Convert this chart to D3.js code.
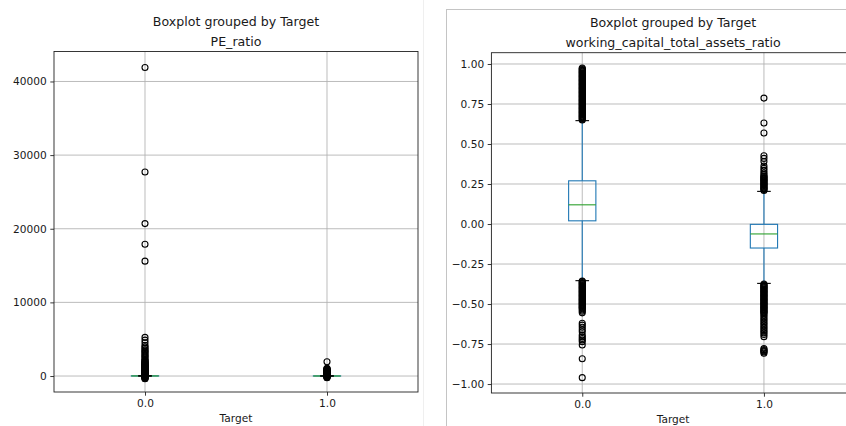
<!DOCTYPE html>
<html>
<head>
<meta charset="utf-8">
<script src="https://cdn.jsdelivr.net/npm/d3@7/dist/d3.min.js"></script>
<style>
  html, body { margin: 0; padding: 0; background: #fff; }
  svg { display: block; font-family: "DejaVu Sans", sans-serif; }
</style>
</head>
<body>
<svg id="chart" width="846" height="426"></svg>
<script>
// Groups on the x axis
const groups = ["0.0", "1.0"];

// PE_ratio box statistics per group
const peQ1 = [4, -2];
const peMedian = [11, 5];
const peQ3 = [22, 14];
const peWhiskerLow = [-20, -25];
const peWhiskerHigh = [50, 38];
const peFliers0 = [41900, 27700, 20700, 17900, 15600, 5250, 4880, 4520, 4150, 3950, 3750,
  3550, 3400, 3250, 3080, 2900, 2750, 2600, 2450, 2260, 2150, 2050, 1950, 1880, 1810,
  1740, 1670, 1600, 1540, 1480, 1420, 1360, 1300, 1250, 1200, 1150, 1100, 1050, 1000,
  960, 920, 880, 840, 800, 760, 720, 690, 660, 630, 600, 570, 540, 510, 480, 450, 420,
  395, 370, 345, 320, 300, 280, 260, 240, 220, 200, 185, 170, 155, 140, 125, 110, 100,
  90, 80, 70, 62, -60, -100, -150, -200, -260, -320, -380];
const peFliers1 = [1940, 1050, 990, 940, 890, 840, 790, 745, 700, 660, 620, 580, 545,
  510, 475, 440, 410, 380, 350, 320, 295, 270, 245, 220, 200, 180, 160, 140, 120, 105,
  90, 75, 60, 48, -50, -90, -140, -190, -240];
const peTicks = [0, 10000, 20000, 30000, 40000];

// working_capital_total_assets_ratio box statistics per group
const wcQ1 = [0.02, -0.15];
const wcMedian = [0.12, -0.062];
const wcQ3 = [0.27, -0.002];
const wcWhiskerLow = [-0.354, -0.371];
const wcWhiskerHigh = [0.646, 0.204];
const wcFliers0 = [0.975, 0.97, 0.965, 0.96, 0.955, 0.95, 0.945, 0.94, 0.935, 0.93,
  0.925, 0.92, 0.915, 0.91, 0.905, 0.90, 0.895, 0.89, 0.885, 0.88, 0.875, 0.87, 0.865,
  0.86, 0.855, 0.85, 0.845, 0.84, 0.835, 0.83, 0.825, 0.82, 0.815, 0.81, 0.805, 0.80,
  0.795, 0.79, 0.785, 0.78, 0.775, 0.77, 0.765, 0.76, 0.755, 0.75, 0.745, 0.74, 0.735,
  0.73, 0.725, 0.72, 0.715, 0.71, 0.705, 0.70, 0.695, 0.69, 0.685, 0.68, 0.675, 0.67,
  0.665, 0.66, 0.655, 0.65,
  -0.356, -0.36, -0.365, -0.37, -0.375, -0.38, -0.385, -0.39, -0.395, -0.40, -0.405,
  -0.41, -0.415, -0.42, -0.425, -0.43, -0.435, -0.44, -0.445, -0.45, -0.455, -0.46,
  -0.465, -0.47, -0.475, -0.48, -0.485, -0.49, -0.495, -0.50, -0.505, -0.51, -0.515,
  -0.52, -0.525, -0.53, -0.537, -0.545, -0.555, -0.62, -0.632, -0.645, -0.66, -0.673,
  -0.694, -0.705, -0.715, -0.725, -0.735, -0.756, -0.842, -0.96];
const wcFliers1 = [0.787, 0.631, 0.569, 0.427, 0.41, 0.39, 0.362, 0.348, 0.335, 0.32,
  0.31, 0.30, 0.295, 0.29, 0.285, 0.28, 0.275, 0.27, 0.265, 0.26, 0.255, 0.25, 0.245,
  0.24, 0.235, 0.23, 0.225, 0.22, 0.215, 0.21,
  -0.375, -0.38, -0.385, -0.39, -0.395, -0.40, -0.405, -0.41, -0.415, -0.42, -0.425,
  -0.43, -0.435, -0.44, -0.445, -0.45, -0.455, -0.46, -0.465, -0.47, -0.475, -0.48,
  -0.485, -0.49, -0.495, -0.50, -0.505, -0.51, -0.515, -0.52, -0.525, -0.53, -0.535,
  -0.54, -0.545, -0.55, -0.555, -0.56, -0.57, -0.58, -0.59, -0.60, -0.61, -0.62,
  -0.63, -0.64, -0.65, -0.66, -0.67, -0.68, -0.69, -0.704, -0.778, -0.785, -0.79,
  -0.795, -0.80, -0.808];
const wcTicks = [-1, -0.75, -0.5, -0.25, 0, 0.25, 0.5, 0.75, 1];

const svg = d3.select("#chart");
const ink = "#1a1a1a";

// Panel framing
svg.append("line").attr("x1", 423.5).attr("x2", 423.5).attr("y1", 0).attr("y2", 426)
  .attr("stroke", "#efefef").attr("stroke-width", 1);
svg.append("rect").attr("x", 446.5).attr("y", 9.5).attr("width", 420).attr("height", 430)
  .attr("fill", "none").attr("stroke", "#c4c4c4").attr("stroke-width", 1);

function drawPanel(cfg) {
  const g = svg.append("g");
  const x = d3.scaleLinear().domain([0.5, 2.5]).range([cfg.left, cfg.right]);
  const y = d3.scaleLinear().domain(cfg.yDomain).range([cfg.bottom, cfg.top]);
  const pos = [1, 2];

  // Grid
  const grid = g.append("g").attr("stroke", "#b0b0b0").attr("stroke-width", 0.85);
  cfg.ticks.forEach(t => {
    grid.append("line").attr("x1", cfg.left).attr("x2", cfg.right)
      .attr("y1", y(t)).attr("y2", y(t));
  });
  pos.forEach(p => {
    grid.append("line").attr("x1", x(p)).attr("x2", x(p))
      .attr("y1", cfg.top).attr("y2", cfg.bottom);
  });

  const halfBox = (x(1.075) - x(1));
  const halfCap = halfBox / 2;

  pos.forEach((p, i) => {
    const cx = x(p);
    // whiskers
    g.append("line").attr("x1", cx).attr("x2", cx)
      .attr("y1", y(cfg.q3[i])).attr("y2", y(cfg.hi[i]))
      .attr("stroke", "#1f77b4").attr("stroke-width", 1.1);
    g.append("line").attr("x1", cx).attr("x2", cx)
      .attr("y1", y(cfg.q1[i])).attr("y2", y(cfg.lo[i]))
      .attr("stroke", "#1f77b4").attr("stroke-width", 1.1);
    // box
    g.append("rect").attr("x", cx - halfBox).attr("width", 2 * halfBox)
      .attr("y", y(cfg.q3[i])).attr("height", Math.max(0, y(cfg.q1[i]) - y(cfg.q3[i])))
      .attr("fill", "none").attr("stroke", "#1f77b4").attr("stroke-width", 1.1);
    // median
    g.append("line").attr("x1", cx - halfBox).attr("x2", cx + halfBox)
      .attr("y1", y(cfg.med[i])).attr("y2", y(cfg.med[i]))
      .attr("stroke", "#2ca02c").attr("stroke-width", 1.1);
    // caps
    [cfg.hi[i], cfg.lo[i]].forEach(v => {
      g.append("line").attr("x1", cx - halfCap).attr("x2", cx + halfCap)
        .attr("y1", y(v)).attr("y2", y(v))
        .attr("stroke", "#000").attr("stroke-width", 1.1);
    });
    // fliers
    g.append("g").selectAll("circle").data(cfg.fliers[i]).join("circle")
      .attr("cx", cx).attr("cy", d => y(d)).attr("r", 3)
      .attr("fill", "none").attr("stroke", "#000").attr("stroke-width", 1.1);
  });

  // Frame
  g.append("rect").attr("x", cfg.left).attr("y", cfg.top)
    .attr("width", cfg.right - cfg.left).attr("height", cfg.bottom - cfg.top)
    .attr("fill", "none").attr("stroke", "#222").attr("stroke-width", 0.9);

  // Axes
  const yAxis = d3.axisLeft(y).tickValues(cfg.ticks).tickSize(3.7).tickPadding(3.5)
    .tickFormat(cfg.fmt);
  const ya = g.append("g").attr("transform", `translate(${cfg.left},0)`).call(yAxis);
  const xAxis = d3.axisBottom(x).tickValues(pos).tickSize(3.7).tickPadding(3.5)
    .tickFormat((d, i) => groups[i]);
  const xa = g.append("g").attr("transform", `translate(0,${cfg.bottom})`).call(xAxis);
  [ya, xa].forEach(a => {
    a.select(".domain").remove();
    a.selectAll("line").attr("stroke", "#222").attr("stroke-width", 0.9);
    a.selectAll("text").attr("fill", ink).style("font-size", "10.6px")
      .style("font-family", "DejaVu Sans, sans-serif");
  });

  const mid = (cfg.left + cfg.right) / 2;
  g.append("text").attr("x", mid).attr("y", cfg.bottom + 30).attr("text-anchor", "middle")
    .attr("fill", ink).style("font-size", "10.6px").text("Target");
  g.append("text").attr("x", mid).attr("y", cfg.top - 26).attr("text-anchor", "middle")
    .attr("fill", ink).style("font-size", "12.6px").text("Boxplot grouped by Target");
  g.append("text").attr("x", mid).attr("y", cfg.top - 6).attr("text-anchor", "middle")
    .attr("fill", ink).style("font-size", "12.6px").text(cfg.title);
}

drawPanel({
  left: 54, right: 418, top: 51.5, bottom: 392,
  yDomain: [-2170, 44070], ticks: peTicks, fmt: d3.format("d"),
  q1: peQ1, med: peMedian, q3: peQ3, lo: peWhiskerLow, hi: peWhiskerHigh,
  fliers: [peFliers0, peFliers1], title: "PE_ratio"
});

drawPanel({
  left: 491.4, right: 854.8, top: 52.7, bottom: 393,
  yDomain: [-1.056, 1.0706], ticks: wcTicks, fmt: d3.format(".2f"),
  q1: wcQ1, med: wcMedian, q3: wcQ3, lo: wcWhiskerLow, hi: wcWhiskerHigh,
  fliers: [wcFliers0, wcFliers1], title: "working_capital_total_assets_ratio"
});
</script>
</body>
</html>
